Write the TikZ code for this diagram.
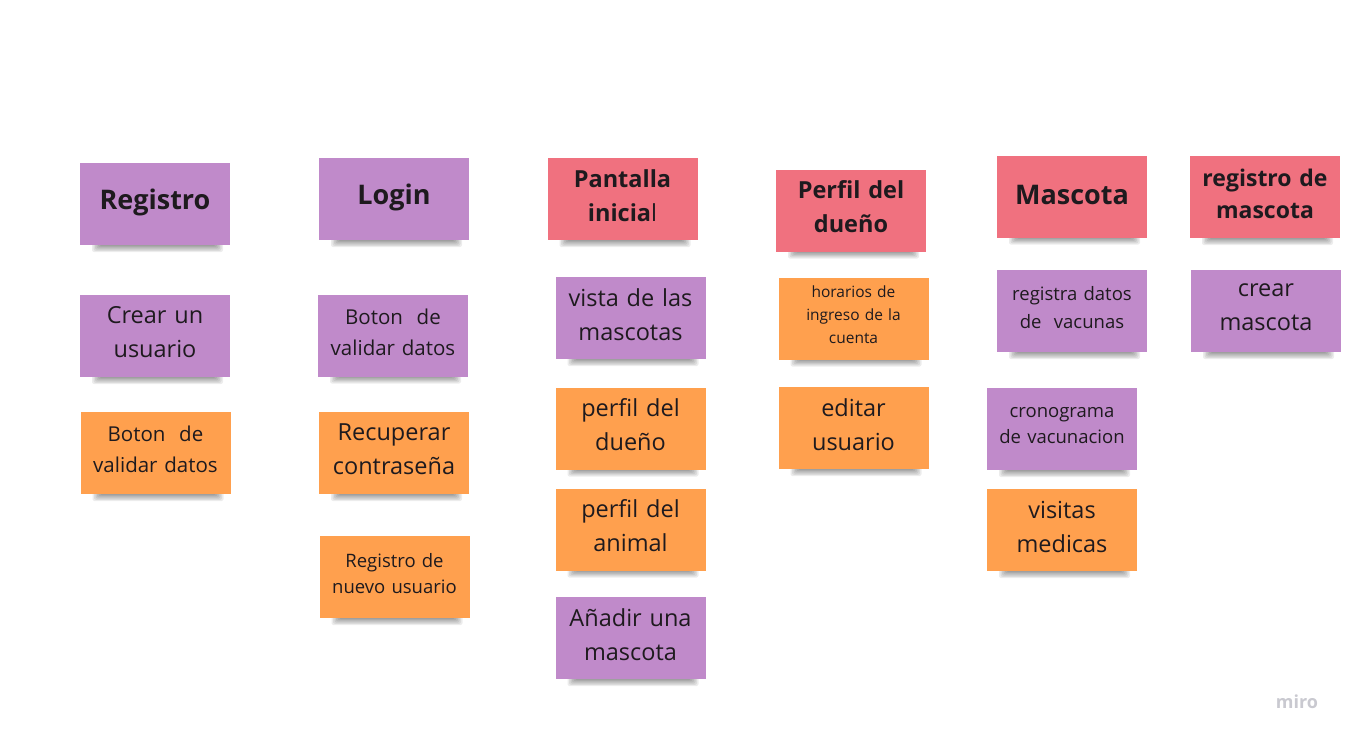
\documentclass[tikz,border=0pt]{standalone}
\usepackage{fontspec}
\setmainfont{Open Sans}[WordSpace={1.35,1,1}]
\definecolor{npurple}{HTML}{C08ACA}
\definecolor{npink}{HTML}{F0717F}
\definecolor{norange}{HTML}{FFA04E}
\definecolor{ntext}{HTML}{1E1A1E}
\definecolor{mirog}{HTML}{C9C9D0}
\tikzset{
  sticky/.style={minimum width=150pt, minimum height=82pt, inner sep=0pt},
  shadelayer/.style={fill=black, fill opacity=0.075, draw=none},
  sp/.style={sticky, fill=npurple},
  sk/.style={sticky, fill=npink},
  so/.style={sticky, fill=norange},
  stext/.style={align=center, text=ntext, text width=146pt, inner sep=0pt},
}
\newcommand{\fs}[2]{\fontsize{#1pt}{#2pt}\selectfont}
% \note{name}{style}{x}{y}{font}{text}{text shift}
\newcommand{\note}[7]{%
  \foreach \k in {0,...,5}{%
    \fill[shadelayer, rounded corners=2pt] (#3-63+1.5*\k,#4+31) rectangle (#3+68-1.5*\k,#4+48-1.2*\k);}
  \node[#2] (#1) at (#3,#4) {};
  \node[stext, font=#5] (#1-t) at ([yshift=#7pt]#1.center) {#6};}
\begin{document}
\begin{tikzpicture}[x=1pt,y=-1pt]
\useasboundingbox[fill=white] (0,0) rectangle (1350,740);
% column 1
\note{registro}{sp}{155}{204}{\fs{27}{34}\bfseries}{Registro}{2}
\note{crear}{sp}{155}{336}{\fs{23.5}{34}}{Crear un\\usuario}{3.5}
\note{boton1}{so}{155.5}{453}{\fs{20.5}{31}}{Boton\ \ de\\validar datos}{3.5}
% column 2
\note{login}{sp}{394}{199}{\fs{27}{34}\bfseries}{Login}{2}
\note{boton2}{sp}{393}{335.5}{\fs{20.5}{31}}{Boton\ \ de\\validar datos}{3.5}
\note{recuperar}{so}{394}{453}{\fs{23.5}{34}}{Recuperar\\contraseña}{3.5}
\note{nuevo}{so}{394.5}{577}{\fs{18.5}{26}}{Registro de\\nuevo usuario}{3.5}
% column 3
\note{pantalla}{sk}{622.5}{199}{\fs{23.5}{34}\bfseries}{Pantalla\\inicia{\mdseries l}}{3.5}
\note{vista}{sp}{630.5}{318}{\fs{23.5}{34}}{vista de las\\mascotas}{3.5}
\note{perfild}{so}{630.5}{428.5}{\fs{23.5}{34}}{perfil del\\dueño}{3.5}
\note{perfila}{so}{630.5}{529.5}{\fs{23.5}{34}}{perfil del\\animal}{3.5}
\note{anadir}{sp}{630.5}{638}{\fs{23.5}{34}}{Añadir una\\mascota}{3.5}
% column 4
\note{perfildueno}{sk}{851}{210.5}{\fs{23.5}{34}\bfseries}{Perfil del\\dueño}{3.5}
\note{horarios}{so}{853.5}{318.5}{\fs{15.5}{23}}{horarios de\\ingreso de la\\cuenta}{3.5}
\note{editar}{so}{853.5}{428}{\fs{23.5}{34}}{editar\\usuario}{3.5}
% column 5
\note{mascota}{sk}{1072}{196.5}{\fs{27}{34}\bfseries}{Mascota}{2}
\note{vacunas}{sp}{1072}{311}{\fs{18.5}{28}}{registra datos\\de\ \ vacunas}{3.5}
\note{crono}{sp}{1062}{429}{\fs{18.5}{26}}{cronograma\\de vacunacion}{3.5}
\note{visitas}{so}{1062}{530}{\fs{23.5}{34}}{visitas\\medicas}{3.5}
% column 6
\note{regmascota}{sk}{1265}{197}{\fs{23}{32}\bfseries}{registro de\\mascota}{3.5}
\note{crearm}{sp}{1266}{311}{\fs{23.5}{34}}{crear\\mascota}{3.5}
% logo
\node[text=mirog, font=\fs{18}{20}\bfseries, inner sep=0pt] (miro) at (1297,702) {miro};
\end{tikzpicture}
\end{document}
